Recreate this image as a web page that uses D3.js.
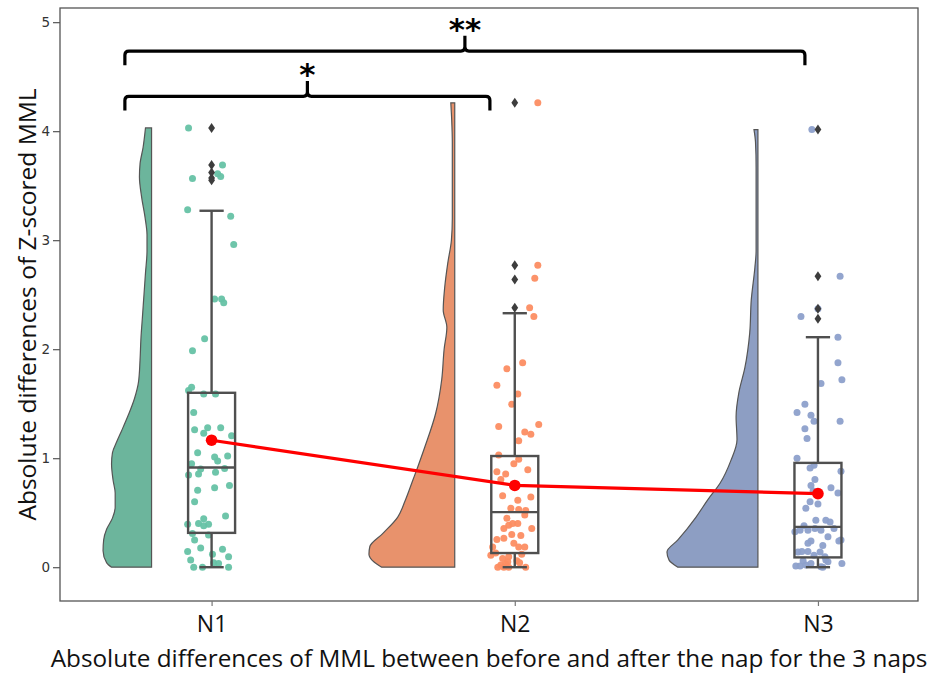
<!DOCTYPE html>
<html>
<head>
<meta charset="utf-8">
<script src="https://cdn.jsdelivr.net/npm/d3@7"></script>
<style>
  html, body { margin: 0; padding: 0; background: #fff; }
  svg { display: block; }
</style>
</head>
<body>
<svg id="chart" width="939" height="675"></svg>
<script>
// ---------------- DATA ----------------
const categories = ["N1", "N2", "N3"];
const yTicks = [0, 1, 2, 3, 4, 5];
const yLabel = "Absolute differences of Z-scored MML";
const xLabel = "Absolute differences of MML between before and after the nap for the 3 naps";

// raw points (stripplot) and their horizontal jitter, in category units
const pointsN1 = [4.03,3.69,3.61,3.585,3.565,3.28,3.22,2.96,2.46,2.46,2.425,2.095,1.985,1.65,1.62,1.59,1.59,1.42,1.26,1.28,1.23,1.28,1.205,1.05,1.01,0.975,1.02,0.95,0.90,0.855,0.845,0.87,0.905,0.75,0.73,0.705,0.60,0.47,0.445,0.40,0.395,0.395,0.38,0.31,0.295,0.25,0.145,0.177,0.165,0.12,0.065,0.095,0.0,0.0,0.04,0.035,0.0];
const jitterN1 = [-0.076,0.036,0.020,0.030,-0.063,-0.079,0.063,0.073,0.010,0.033,0.040,-0.023,-0.063,-0.066,-0.076,-0.026,0.013,-0.059,-0.056,-0.013,-0.026,0.030,0.066,-0.046,0.010,0.020,0.053,-0.066,-0.036,-0.043,-0.076,0.013,0.043,0.059,0.010,-0.046,-0.056,0.046,-0.026,-0.043,-0.010,-0.079,-0.026,-0.063,-0.010,-0.056,-0.079,-0.036,0.036,0.003,-0.069,0.056,-0.059,-0.030,0.007,0.023,0.056];

const pointsN2 = [4.26,2.77,2.65,2.38,2.30,1.875,1.82,1.67,1.59,1.495,1.29,1.31,1.24,1.22,1.16,1.03,0.99,0.95,0.875,0.895,0.805,0.855,0.645,0.655,0.615,0.54,0.53,0.52,0.385,0.40,0.40,0.355,0.355,0.30,0.29,0.255,0.265,0.22,0.185,0.185,0.185,0.11,0.13,0.08,0.095,0.05,0.02,0.0,0.0,0.0,0.0,0.06,0.03,0.12,0.04,0.45,0.48];
const jitterN2 = [0.076,0.076,0.066,0.049,0.063,0.026,-0.026,-0.059,0.010,-0.010,-0.053,0.079,0.033,0.053,0.013,-0.053,0.013,-0.003,-0.059,0.043,-0.046,-0.030,0.053,-0.040,0.010,-0.013,0.013,0.036,-0.020,-0.007,0.010,-0.036,0.056,-0.010,0.020,-0.059,-0.036,-0.003,0.013,0.033,-0.073,-0.079,-0.063,-0.040,-0.020,-0.023,-0.046,-0.036,-0.020,0.036,-0.056,0.007,-0.030,0.023,0.016,-0.026,0.033];

const pointsN3 = [4.015,2.67,2.37,2.30,2.11,1.875,1.72,1.685,1.495,1.42,1.395,1.34,1.34,1.27,1.18,1.00,0.91,0.935,0.88,0.805,0.75,0.70,0.73,0.68,0.60,0.58,0.54,0.43,0.43,0.415,0.355,0.34,0.325,0.34,0.34,0.355,0.25,0.24,0.24,0.22,0.14,0.145,0.145,0.14,0.095,0.065,0.01,0.01,0.035,0.05,0.035,0.005,0.02,0.0,0.11,0.06,0.20,0.28,0.38];
const jitterN3 = [-0.020,0.073,0.000,-0.056,0.066,0.066,0.079,0.010,-0.043,-0.069,-0.023,-0.013,0.073,-0.043,-0.036,-0.069,-0.026,-0.013,0.076,-0.010,-0.023,-0.016,0.043,0.066,-0.026,0.000,-0.040,-0.007,0.026,0.040,-0.010,0.010,-0.076,-0.059,-0.033,0.053,0.076,0.069,-0.023,-0.033,-0.066,-0.053,-0.033,0.007,0.023,0.026,-0.073,-0.059,-0.023,0.033,0.079,0.010,-0.040,0.016,-0.013,-0.049,0.016,0.033,-0.046];

// box-plot statistics
const q1 = [0.315, 0.13, 0.09];
const medians = [0.915, 0.505, 0.37];
const q3 = [1.60, 1.02, 0.957];
const whiskerLow = [0, 0, 0];
const whiskerHigh = [3.27, 2.33, 2.11];
const means = [1.165, 0.75, 0.675];
const outliersN1 = [4.03, 3.69, 3.62, 3.57, 3.55];
const outliersN2 = [4.26, 2.77, 2.64, 2.38];
const outliersN3 = [4.015, 2.67, 2.37, 2.28];

// half-violin density profiles: value levels and half widths (category units)
const violinLevelsN1 = [0,0.04,0.15,0.25,0.35,0.45,0.55,0.68,0.80,0.95,1.05,1.15,1.25,1.40,1.55,1.70,1.90,2.10,2.30,2.50,2.70,2.90,3.05,3.20,3.40,3.58,3.70,3.85,4.03];
const violinWidthsN1 = [0.132,0.148,0.160,0.158,0.148,0.129,0.120,0.120,0.127,0.132,0.129,0.115,0.099,0.076,0.056,0.043,0.038,0.035,0.030,0.025,0.020,0.015,0.015,0.021,0.033,0.040,0.038,0.028,0.020];
const violinLevelsN2 = [0,0.05,0.12,0.19,0.31,0.46,0.60,0.80,0.92,1.10,1.41,1.72,2.00,2.20,2.36,2.57,2.79,3.00,3.20,3.60,3.90,4.10,4.26];
const violinWidthsN2 = [0.241,0.267,0.283,0.280,0.237,0.188,0.165,0.138,0.122,0.099,0.063,0.043,0.035,0.026,0.038,0.033,0.023,0.011,0.008,0.008,0.008,0.010,0.013];
const violinLevelsN3 = [0,0.065,0.14,0.25,0.46,0.62,0.77,0.98,1.17,1.38,1.60,1.83,2.15,2.45,2.75,2.90,3.67,3.90,4.015];
const violinWidthsN3 = [0.264,0.293,0.300,0.264,0.204,0.165,0.125,0.089,0.069,0.072,0.063,0.043,0.027,0.022,0.010,0.006,0.006,0.008,0.013];

// significance brackets (category / value units)
const bracketLeft = [-0.286, -0.286];
const bracketRight = [0.918, 1.957];
const bracketLevel = [4.32, 4.735];
const sigLabels = ["*", "**"];

// ---------------- STYLE ----------------
const violinFill = ["#6cb59c", "#e8926c", "#8d9ec3"];
const dotFill = ["#66c2a5", "#fc8d62", "#8da0cb"];
const boxColor = "#4f4f4f";

const points = [pointsN1, pointsN2, pointsN3];
const jitters = [jitterN1, jitterN2, jitterN3];
const outliers = [outliersN1, outliersN2, outliersN3];
const vLevels = [violinLevelsN1, violinLevelsN2, violinLevelsN3];
const vWidths = [violinWidthsN1, violinWidthsN2, violinWidthsN3];

const svg = d3.select("#chart");
const L = 60, R = 918, T = 8, B = 601;

const x = d3.scaleLinear().domain([-0.5, 2.33]).range([L, R]);
const y = d3.scaleLinear().domain([-0.31, 5.13]).range([B, T]);

const g = svg.append("g");

// violins
const violinOffset = 0.198;
categories.forEach((c, i) => {
  const prof = vLevels[i].map((v, k) => ({ v, w: vWidths[i][k] }));
  const area = d3.area()
    .y(d => y(d.v))
    .x0(d => x(i - violinOffset - d.w))
    .x1(() => x(i - violinOffset))
    .curve(d3.curveMonotoneY);
  g.append("path")
    .attr("d", area(prof))
    .attr("fill", violinFill[i])
    .attr("stroke", "#555")
    .attr("stroke-width", 1.2);
});

// strip points
categories.forEach((c, i) => {
  g.append("g").selectAll("circle")
    .data(points[i].map((v, k) => ({ v, j: jitters[i][k] })))
    .join("circle")
    .attr("cx", d => x(i + d.j))
    .attr("cy", d => y(d.v))
    .attr("r", 3.5)
    .attr("fill", dotFill[i])
    .attr("fill-opacity", 0.95);
});

// boxes
const boxHalf = 0.0775, capHalf = 0.04;
categories.forEach((c, i) => {
  const bg = g.append("g").attr("stroke", boxColor).attr("stroke-width", 2.4).attr("fill", "none");
  bg.append("line").attr("x1", x(i)).attr("x2", x(i)).attr("y1", y(q3[i])).attr("y2", y(whiskerHigh[i]));
  bg.append("line").attr("x1", x(i)).attr("x2", x(i)).attr("y1", y(q1[i])).attr("y2", y(whiskerLow[i]));
  bg.append("line").attr("x1", x(i - capHalf)).attr("x2", x(i + capHalf)).attr("y1", y(whiskerHigh[i])).attr("y2", y(whiskerHigh[i]));
  bg.append("line").attr("x1", x(i - capHalf)).attr("x2", x(i + capHalf)).attr("y1", y(whiskerLow[i])).attr("y2", y(whiskerLow[i]));
  bg.append("rect")
    .attr("x", x(i - boxHalf)).attr("width", x(i + boxHalf) - x(i - boxHalf))
    .attr("y", y(q3[i])).attr("height", y(q1[i]) - y(q3[i]));
  bg.append("line").attr("x1", x(i - boxHalf)).attr("x2", x(i + boxHalf)).attr("y1", y(medians[i])).attr("y2", y(medians[i]));
  // outliers
  g.append("g").selectAll("path")
    .data(outliers[i])
    .join("path")
    .attr("transform", d => `translate(${x(i)},${y(d)})`)
    .attr("d", "M0,-5L3.4,0L0,5L-3.4,0Z")
    .attr("fill", "#3d3d3d");
});

// mean line
const meanLine = d3.line().x((d, i) => x(i)).y(d => y(d));
g.append("path").attr("d", meanLine(means)).attr("fill", "none").attr("stroke", "#ff0000").attr("stroke-width", 3.2);
g.selectAll(".mean").data(means).join("circle")
  .attr("cx", (d, i) => x(i)).attr("cy", d => y(d)).attr("r", 5.8).attr("fill", "#ff0000");

// brackets
const drop = 0.13, tip = 0.14, rad = 4;
bracketLeft.forEach((lft, k) => {
  const x0 = x(lft), x1 = x(bracketRight[k]), xm = (x0 + x1) / 2;
  const yl = y(bracketLevel[k]), ye = y(bracketLevel[k] - drop), yt = y(bracketLevel[k] + tip);
  const p = d3.path();
  p.moveTo(x0, ye);
  p.lineTo(x0, yl + rad);
  p.quadraticCurveTo(x0, yl, x0 + rad, yl);
  p.lineTo(xm - rad, yl);
  p.quadraticCurveTo(xm, yl, xm, yl - rad);
  p.lineTo(xm, yt);
  p.moveTo(xm, yl - rad);
  p.quadraticCurveTo(xm, yl, xm + rad, yl);
  p.lineTo(x1 - rad, yl);
  p.quadraticCurveTo(x1, yl, x1, yl + rad);
  p.lineTo(x1, ye);
  g.append("path").attr("d", p.toString()).attr("fill", "none").attr("stroke", "#000").attr("stroke-width", 3.2);
  g.append("text")
    .attr("x", xm).attr("y", y(bracketLevel[k] + 0.10))
    .attr("text-anchor", "middle")
    .attr("font-family", "DejaVu Sans").attr("font-weight", "bold").attr("font-size", 31)
    .attr("fill", "#000")
    .text(sigLabels[k]);
});

// frame
svg.append("rect").attr("x", L).attr("y", T).attr("width", R - L).attr("height", B - T)
  .attr("fill", "none").attr("stroke", "#555").attr("stroke-width", 1.3);

// y axis
const yAxis = svg.append("g").attr("transform", `translate(${L},0)`)
  .call(d3.axisLeft(y).tickValues(yTicks).tickFormat(d3.format("d")).tickSize(7).tickPadding(3));
yAxis.select(".domain").remove();
yAxis.selectAll("line").attr("stroke", "#555").attr("stroke-width", 1.2);
yAxis.selectAll("text").attr("font-family", "DejaVu Sans").attr("font-size", 13.5).attr("fill", "#333");

// x axis
const xAxis = svg.append("g").attr("transform", `translate(0,${B})`)
  .call(d3.axisBottom(x).tickValues([0, 1, 2]).tickFormat(i => categories[i]).tickSize(5).tickPadding(10));
xAxis.select(".domain").remove();
xAxis.selectAll("line").attr("stroke", "#777").attr("stroke-width", 1.2);
xAxis.selectAll("text").attr("font-family", "Open Sans").attr("font-size", 23).attr("fill", "#111");

// axis labels
svg.append("text")
  .attr("transform", `translate(36,${(T + B) / 2}) rotate(-90)`)
  .attr("text-anchor", "middle")
  .attr("font-family", "Open Sans").attr("font-size", 24.5).attr("fill", "#111")
  .text(yLabel);
svg.append("text")
  .attr("x", (L + R) / 2).attr("y", 667)
  .attr("text-anchor", "middle")
  .attr("font-family", "Open Sans").attr("font-size", 24.3).attr("fill", "#111")
  .text(xLabel);
</script>
</body>
</html>
